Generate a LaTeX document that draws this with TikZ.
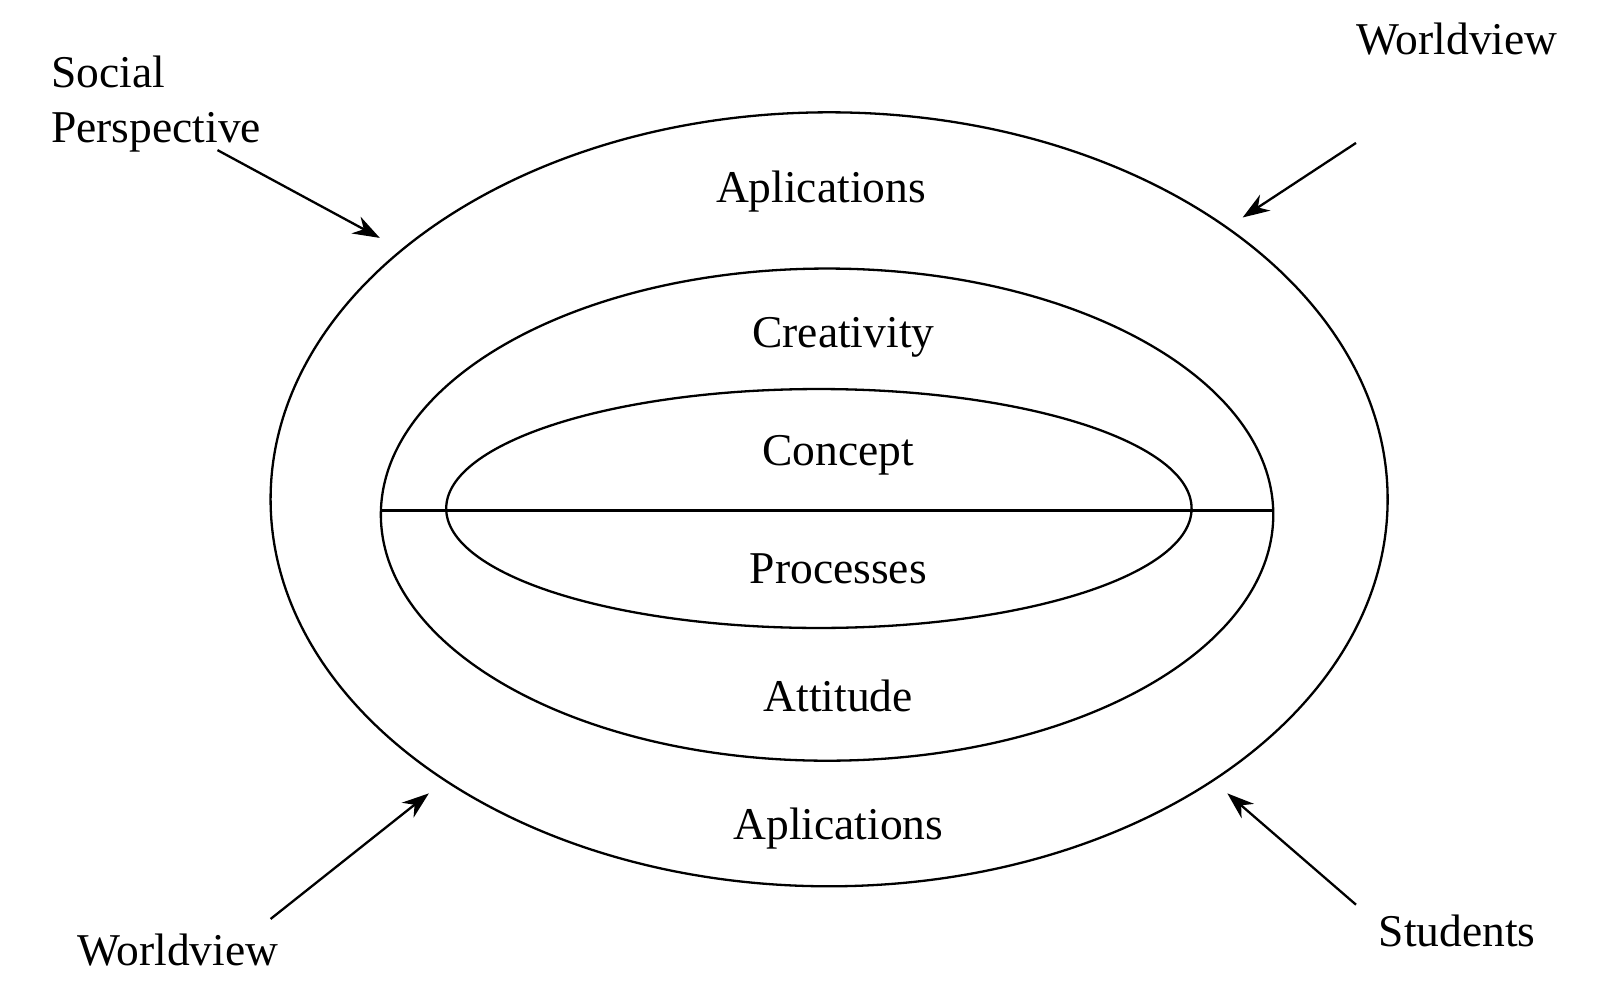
\documentclass[tikz,border=0pt]{standalone}
\usepackage{fontspec}
\setmainfont{Liberation Serif}
\usetikzlibrary{arrows.meta}
\begin{document}
\begin{tikzpicture}[x=1.021pt,y=-1.021pt,
  lbl/.style={font=\fontsize{45.5}{52}\selectfont, inner sep=0pt},
  ring/.style={line width=2.3pt},
  arr/.style={line width=2.3pt,-{Stealth[length=27pt,width=19pt]}}]
\useasboundingbox (0,0) rectangle (1566,970);
\draw[ring] (812,489) ellipse [x radius=547, y radius=379];
\draw[ring] (810,504) ellipse [x radius=437, y radius=241];
\draw[ring] (802,498) ellipse [x radius=365, y radius=117];
\coordinate (hl) at (373,500); \coordinate (hr) at (1247,500);
\draw[ring] (hl) -- (hr);
\node[lbl] (a1) at (804,188) {Aplications};
\node[lbl] (cr) at (826,330) {Creativity};
\node[lbl] (co) at (821,446) {Concept};
\node[lbl] (pr) at (821,557) {Processes};
\node[lbl] (at) at (821,682) {Attitude};
\node[lbl] (a2) at (821,811) {Aplications};
\node[lbl,anchor=west] (soc) at (50,70) {Social};
\node[lbl,anchor=west] (per) at (50,130) {Perspective};
\node[lbl] (w1) at (1427,38) {Worldview};
\node[lbl] (w2) at (174,930) {Worldview};
\node[lbl] (st) at (1427,912) {Students};
\coordinate (s1) at (213,147); \coordinate (e1) at (372,233);
\coordinate (s2) at (1328,140); \coordinate (e2) at (1217,213);
\coordinate (s3) at (265,900); \coordinate (e3) at (420,777);
\coordinate (s4) at (1328,886); \coordinate (e4) at (1202,777);
\draw[arr] (s1) -- (e1);
\draw[arr] (s2) -- (e2);
\draw[arr] (s3) -- (e3);
\draw[arr] (s4) -- (e4);
\end{tikzpicture}
\end{document}
